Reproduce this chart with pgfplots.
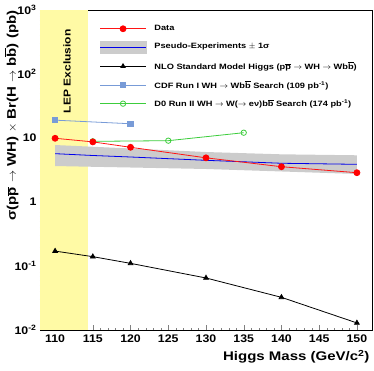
\documentclass[border=0pt]{standalone}
\usepackage{fontspec}
\setmainfont{Liberation Sans}[FakeStretch=1.2]
\newfontfamily\tickfont{Liberation Sans}[FakeStretch=1.12]
\usepackage{pgfplots}
\pgfplotsset{compat=1.18}

\definecolor{datared}{RGB}{255,20,20}
\definecolor{pseblue}{RGB}{0,0,235}
\definecolor{bandgray}{RGB}{204,204,204}
\definecolor{cdfblue}{RGB}{120,155,215}
\definecolor{dzgreen}{RGB}{60,205,60}
\definecolor{lepyellow}{RGB}{255,250,165}

\newcommand{\bbar}{b$\overline{\mbox{b}}$}

\begin{document}
\begin{tikzpicture}
\begin{axis}[
  at={(0pt,0pt)}, anchor=south west,
  scale only axis, width=332pt, height=320pt,
  ymode=log, ymin=0.01, ymax=1000,
  xmin=108, xmax=152,
  xtick={110,115,...,150},
  minor x tick num=4,
  ytick={0.01,0.1,1,10,100,1000},
  yticklabels={10\textsuperscript{-2},10\textsuperscript{-1},1,10,10\textsuperscript{2},10\textsuperscript{3}},
  minor ytick={0.02,0.03,0.04,0.05,0.06,0.07,0.08,0.09,0.2,0.3,0.4,0.5,0.6,0.7,0.8,0.9,2,3,4,5,6,7,8,9,20,30,40,50,60,70,80,90,200,300,400,500,600,700,800,900},
  xtick pos=bottom, ytick pos=left,
  tick align=inside,
  major tick length=5pt, minor tick length=2.5pt,
  /pgf/number format/assume math mode=true,
  ticklabel style={font=\tickfont\bfseries\fontsize{11}{12}\selectfont},
  xticklabel style={yshift=-1pt},
  axis line style={line width=0.8pt},
  clip=true,
  legend style={at={(0.17,0.962)}, anchor=north west, draw=none, fill=none,
    font=\bfseries\fontsize{7.7}{9}\selectfont, row sep=7.6pt,
    nodes={inner sep=1pt},
    /tikz/every odd column/.append style={column sep=7pt}},
  legend cell align=left,
  legend image code/.code={\draw[mark repeat=2,mark phase=2] plot coordinates {(0pt,0pt) (23pt,0pt) (46pt,0pt)};},
]
% LEP exclusion region
\addplot[draw=none, fill=lepyellow, forget plot] coordinates {(108,0.01) (114.4,0.01) (114.4,1000) (108,1000)} -- cycle;
\node[rotate=90, anchor=east, font=\bfseries\fontsize{10}{12}\selectfont] at (axis cs:111.6,560) {LEP Exclusion};

% pseudo-experiment band
\addplot[draw=none, fill=bandgray, forget plot] coordinates {
  (110,7.77) (115,7.3) (120,6.86) (130,6.04) (140,5.56) (150,5.37)
  (150,2.74) (140,3.0) (130,3.28) (120,3.46) (115,3.55) (110,3.65)} -- cycle;
\addplot[pseblue, line width=0.8pt, forget plot] coordinates {
  (110,5.69) (115,5.33) (120,5.05) (130,4.48) (140,4.03) (150,3.88)};

% NLO SM
\addplot[black, line width=0.8pt, mark=triangle*, mark size=2.7pt, forget plot] coordinates {
  (110,0.171) (115,0.140) (120,0.110) (130,0.065) (140,0.0324) (150,0.0129)};

% CDF Run I
\addplot[cdfblue, line width=0.8pt, mark=square*, mark size=2.7pt, forget plot] coordinates {
  (110,19.0) (120,16.7)};

% D0 Run II
\addplot[dzgreen, line width=0.8pt, mark=o, mark size=2.7pt, forget plot] coordinates {
  (115,8.87) (125,9.08) (135,12.1)};

% Data
\addplot[datared, line width=0.8pt, mark=*, mark size=3pt, mark options={fill=red, draw=red}, forget plot] coordinates {
  (110,9.9) (115,8.7) (120,7.16) (130,4.9) (140,3.56) (150,2.87)};

\addlegendimage{datared, line width=0.8pt, mark=*, mark size=3pt, mark options={fill=red, draw=red}}
\addlegendentry{Data}
\addlegendimage{legend image code/.code={\fill[bandgray] (0pt,-6pt) rectangle (46pt,6pt); \draw[pseblue, line width=0.8pt] (0pt,0pt) -- (46pt,0pt);}}
\addlegendentry{Pseudo-Experiments $\pm$ 1σ}
\addlegendimage{black, line width=0.8pt, mark=triangle*, mark size=2.5pt}
\addlegendentry{NLO Standard Model Higgs (p$\overline{\mbox{p}}$ $\rightarrow$ WH $\rightarrow$ W\bbar)}
\addlegendimage{cdfblue, line width=0.8pt, mark=square*, mark size=2.7pt}
\addlegendentry{CDF Run I WH $\rightarrow$ W\bbar{} Search (109 pb\textsuperscript{-1})}
\addlegendimage{dzgreen, line width=0.8pt, mark=o, mark size=2.7pt}
\addlegendentry{D0 Run II WH $\rightarrow$ W($\rightarrow$ eν)\bbar{} Search (174 pb\textsuperscript{-1})}
\end{axis}
\node[anchor=east, font=\bfseries\fontsize{12.5}{14}\selectfont] at (333pt,-27pt) {Higgs Mass (GeV/c\textsuperscript{2})};
\node[rotate=90, anchor=south east, font=\bfseries\fontsize{12.5}{14}\selectfont] at (-18pt,323pt) {σ(p$\overline{\mbox{p}}$ $\rightarrow$ WH) $\times$ Br(H $\rightarrow$ \bbar) (pb)};
\pgfresetboundingbox
\path (-40pt,-40pt) rectangle (334pt,330pt);
\end{tikzpicture}
\end{document}
